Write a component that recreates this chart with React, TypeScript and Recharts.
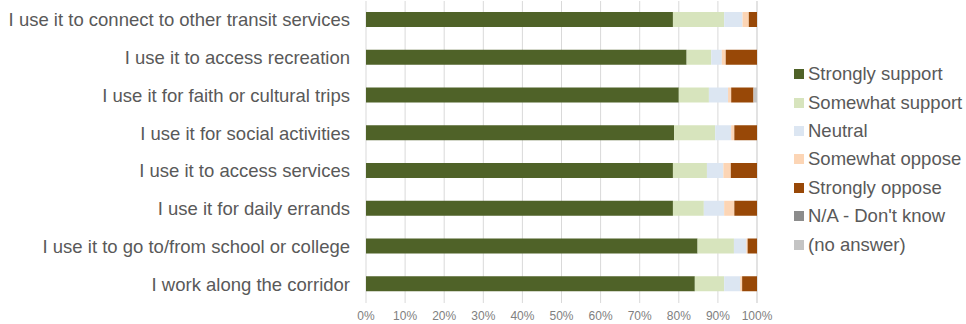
import { BarChart, Bar, XAxis, YAxis, CartesianGrid } from "recharts"

const categories = [
  "I use it to connect to other transit services",
  "I use it to access recreation",
  "I use it for faith or cultural trips",
  "I use it for social activities",
  "I use it to access services",
  "I use it for daily errands",
  "I use it to go to/from school or college",
  "I work along the corridor",
]

const stronglySupport = [78.5, 82.0, 80.0, 78.8, 78.5, 78.5, 84.8, 84.1]
const somewhatSupport = [13.1, 6.3, 7.7, 10.5, 8.7, 7.9, 9.3, 7.5]
const neutral = [4.7, 2.7, 4.9, 4.1, 4.2, 5.2, 3.2, 4.1]
const somewhatOppose = [1.6, 1.0, 0.8, 0.8, 1.9, 2.6, 0.3, 0.5]
const stronglyOppose = [2.1, 8.0, 5.7, 5.8, 6.7, 5.8, 2.4, 3.8]
const dontKnow = [0, 0, 0, 0, 0, 0, 0, 0]
const noAnswer = [0, 0, 0.9, 0, 0, 0, 0, 0]

const xTicks = [0, 10, 20, 30, 40, 50, 60, 70, 80, 90, 100]

const series = [
  { key: "ss", name: "Strongly support", color: "#4f6228", values: stronglySupport },
  { key: "sws", name: "Somewhat support", color: "#d7e4bd", values: somewhatSupport },
  { key: "neu", name: "Neutral", color: "#dce6f2", values: neutral },
  { key: "swo", name: "Somewhat oppose", color: "#fcd5b5", values: somewhatOppose },
  { key: "so", name: "Strongly oppose", color: "#984807", values: stronglyOppose },
  { key: "na", name: "N/A - Don't know", color: "#8c8c8c", values: dontKnow },
  { key: "noa", name: "(no answer)", color: "#c4c4c4", values: noAnswer },
]

const data = categories.map((c, i) => {
  const row: Record<string, string | number> = { category: c }
  series.forEach((s) => (row[s.key] = s.values[i]))
  return row
})

const font = "'Liberation Sans', Arial, sans-serif"

function LegendBox() {
  return (
    <div style={{ position: "absolute", left: 794, top: 60, fontFamily: font }}>
      {series.map((s) => (
        <div key={s.key} style={{ display: "flex", alignItems: "center", height: 28.4 }}>
          <span style={{ width: 10, height: 10, background: s.color, marginRight: 4 }} />
          <span style={{ fontSize: 18.5, color: "#595959", whiteSpace: "nowrap" }}>{s.name}</span>
        </div>
      ))}
    </div>
  )
}

export default function App() {
  return (
    <div style={{ position: "fixed", left: 0, top: 0, width: 966, height: 324, background: "#fff" }}>
      <BarChart
        width={966}
        height={324}
        data={data}
        layout="vertical"
        margin={{ top: 1, right: 209, left: 0, bottom: 0 }}
      >
        <CartesianGrid horizontal={false} stroke="#d9d9d9" />
        <XAxis
          type="number"
          domain={[0, 100]}
          ticks={xTicks}
          tickFormatter={(v) => `${v}%`}
          axisLine={false}
          tickLine={false}
          height={21}
          tickMargin={2}
          tick={{ fontSize: 12, fill: "#808080", fontFamily: font }}
        />
        <YAxis
          type="category"
          dataKey="category"
          width={366}
          axisLine={false}
          tickLine={false}
          tickSize={0}
          tickMargin={16}
          tick={{ fontSize: 18.5, fill: "#595959", fontFamily: font }}
        />
        {series.map((s) => (
          <Bar key={s.key} dataKey={s.key} name={s.name} stackId="a" fill={s.color} barSize={15} isAnimationActive={false} />
        ))}
      </BarChart>
      <LegendBox />
    </div>
  )
}
